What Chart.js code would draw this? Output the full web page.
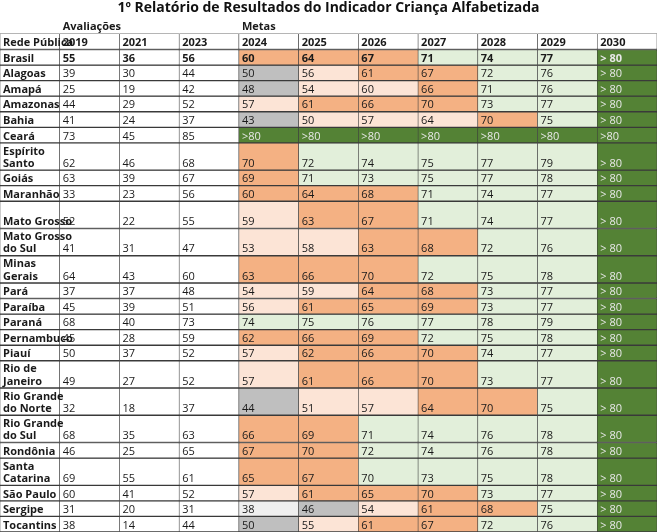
<!DOCTYPE html>
<html><head><meta charset="utf-8">
<script src="https://cdn.jsdelivr.net/npm/chart.js@4"></script>
<style>html,body{margin:0;padding:0;background:#fff}#w{width:657px;height:532px}</style>
</head><body><div id="w"><canvas id="c"></canvas></div>
<script>
const title = "1º Relatório de Resultados do Indicador Criança Alfabetizada";
const years = ["2019","2021","2023","2024","2025","2026","2027","2028","2029","2030"];
const names = [["Brasil"],["Alagoas"],["Amapá"],["Amazonas"],["Bahia"],["Ceará"],["Espírito","Santo"],["Goiás"],["Maranhão"],["","Mato Grosso"],["Mato Grosso","do Sul"],["Minas","Gerais"],["Pará"],["Paraíba"],["Paraná"],["Pernambuco"],["Piauí"],["Rio de","Janeiro"],["Rio Grande","do Norte"],["Rio Grande","do Sul"],["Rondônia"],["Santa","Catarina"],["São Paulo"],["Sergipe"],["Tocantins"]];
const a2019 = [55,39,25,44,41,73,62,63,33,52,41,64,37,45,68,45,50,49,32,68,46,69,60,31,38];
const a2021 = [36,30,19,29,24,45,46,39,23,22,31,43,37,39,40,28,37,27,18,35,25,55,41,20,14];
const a2023 = [56,44,42,52,37,85,68,67,56,55,47,60,48,51,73,59,52,52,37,63,65,61,52,31,44];
const m2024 = ["60","50","48","57","43",">80","70","69","60","59","53","63","54","56","74","62","57","57","44","66","67","65","57","38","50"];
const m2025 = ["64","56","54","61","50",">80","72","71","64","63","58","66","59","61","75","66","62","61","51","69","70","67","61","46","55"];
const m2026 = ["67","61","60","66","57",">80","74","73","68","67","63","70","64","65","76","69","66","66","57","71","72","70","65","54","61"];
const m2027 = ["71","67","66","70","64",">80","75","75","71","71","68","72","68","69","77","72","70","70","64","74","74","73","70","61","67"];
const m2028 = ["74","72","71","73","70",">80","77","77","74","74","72","75","73","73","78","75","74","73","70","76","76","75","73","68","72"];
const m2029 = ["77","76","76","77","75",">80","79","78","77","77","76","78","77","77","79","78","77","77","75","78","78","78","77","75","76"];
const m2030 = ["> 80","> 80","> 80","> 80","> 80",">80","> 80","> 80","> 80","> 80","> 80","> 80","> 80","> 80","> 80","> 80","> 80","> 80","> 80","> 80","> 80","> 80","> 80","> 80","> 80"];
// colour class of the 7 goal cells per row
const goalClass = ["ooolll","gpooll","gppoll","pooolll","gpppol","dddddd","olllll","olllll","ooolll","poolll","ppooll","ooolll","ppooll","pooolll","llllll","ooolll","pooolll","pooolll","gppool","oollll","oollll","oollll","pooolll","wgpool","gpooll"].map(s=>s.slice(0,6)+"d");
const palette = {o:"#f4b183",p:"#fce4d6",l:"#e2efda",d:"#548235",g:"#bfbfbf",w:"#efefef"};

const F = '"Liberation Sans Narrow","Open Sans",sans-serif';
const nCols = 11;
const rowH = names.map(n => n.length === 2 ? 1.75 : 1);
const goals = [m2024,m2025,m2026,m2027,m2028,m2029,m2030];

const rowsText = [], rowsFill = [];
rowsText.push(["","Avaliações","","","Metas","","","","","",""]);
rowsFill.push(Array(nCols).fill("#fff"));
rowsText.push(["Rede Pública",...years]);
rowsFill.push(Array(nCols).fill("#fff"));
names.forEach((n,i)=>{
  rowsText.push([n.join("\n"), String(a2019[i]), String(a2021[i]), String(a2023[i]), ...goals.map(g=>g[i])]);
  rowsFill.push(["#fff","#fff","#fff","#fff", ...goalClass[i].split("").map(c=>palette[c])]);
});
const heights = [1.05,1.05,...rowH];
const total = heights.reduce((a,b)=>a+b,0);

const datasets = rowsText.map((r,i)=>({
  data: Array(nCols).fill(heights[i]),
  backgroundColor: rowsFill[i],
  borderColor: i===0 ? "rgba(0,0,0,0)" : "#3a3a3a",
  borderWidth: i===0 ? 0 : {top:1,bottom:1,left:0.6,right:0.6},
  borderSkipped: false,
  stack: "s"
}));

const textPlugin = {
  id:"cells",
  afterDatasetsDraw(chart){
    const ctx = chart.ctx;
    ctx.save();
    rowsText.forEach((r,i)=>{
      const meta = chart.getDatasetMeta(i);
      r.forEach((t,j)=>{
        if(!t) return;
        const el = meta.data[j];
        const top = Math.min(el.y, el.base), bot = Math.max(el.y, el.base);
        const left = el.x - el.width/2;
        const bold = j===0 || i<2 || i===2;
        ctx.font = (bold?"bold ":"") + "11px " + F;
        const dark = rowsFill[i][j]===palette.d;
        ctx.fillStyle = dark ? "#e8e8e8" : "#1a1a1a";
        ctx.textBaseline = "bottom";
        ctx.textAlign = "left";
        const lines = t.split("\n");
        if(lines.length===2){
          if(lines[0]) ctx.fillText(lines[0], left+3, top+14);
          ctx.fillText(lines[1], left+3, bot-1);
        } else ctx.fillText(t, left+3, bot-1);
      });
    });
    ctx.restore();
  }
};

new Chart(document.getElementById("c"),{
  type:"bar",
  data:{labels:Array.from({length:nCols},(_,i)=>"c"+i), datasets},
  options:{
    responsive:true, maintainAspectRatio:false, animation:false,
    layout:{padding:0},
    datasets:{bar:{categoryPercentage:1,barPercentage:1}},
    plugins:{legend:{display:false},tooltip:{enabled:false},
      title:{display:true,text:title,font:{family:F,size:14,weight:"bold"},color:"#111",padding:{top:0,bottom:0}}},
    scales:{
      x:{display:false,stacked:true},
      y:{display:false,stacked:true,reverse:true,min:0,max:total}
    }
  },
  plugins:[textPlugin]
});
</script></body></html>
